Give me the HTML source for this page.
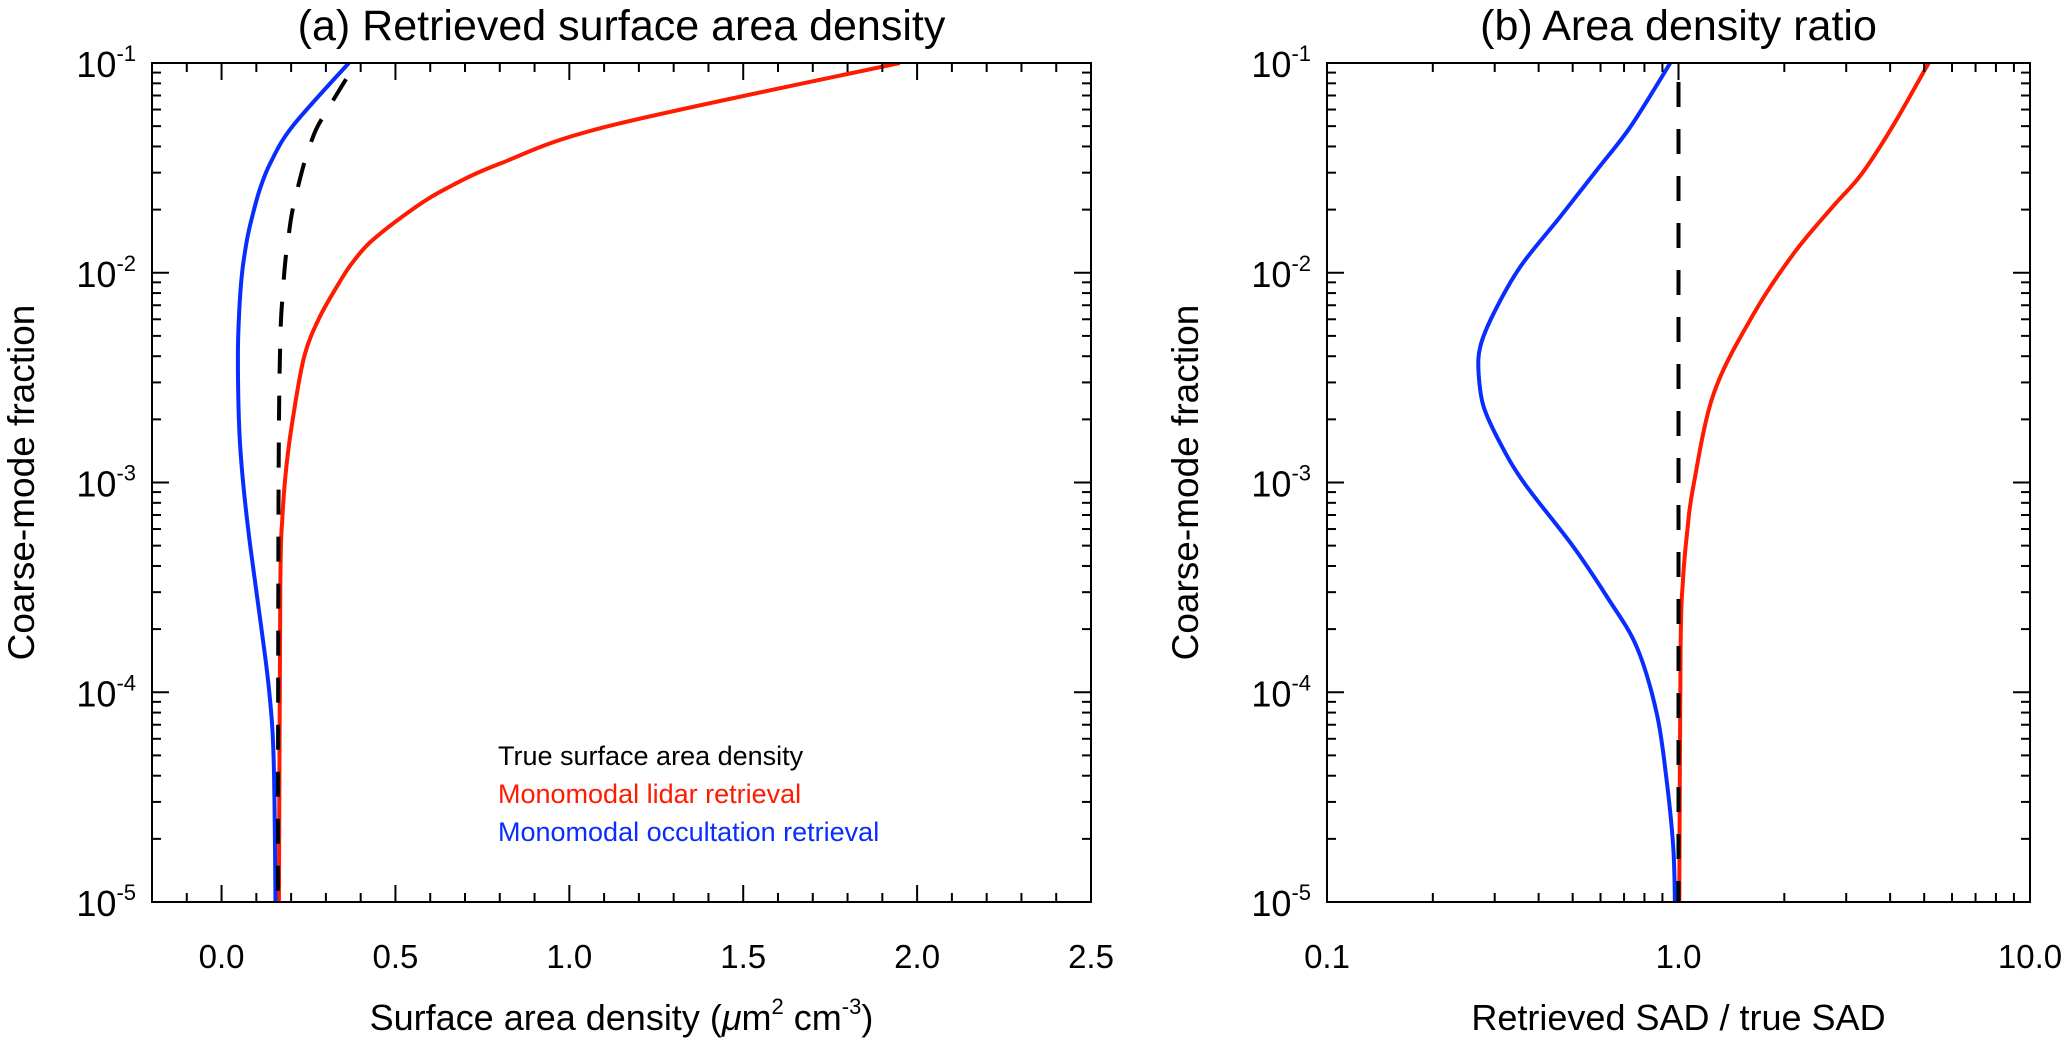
<!DOCTYPE html>
<html><head><meta charset="utf-8">
<style>
html,body{margin:0;padding:0;background:#fff;}
svg{display:block;font-family:"Liberation Sans",Arial,sans-serif;}
</style></head>
<body>
<svg id="fig" width="2067" height="1041" viewBox="0 0 2067 1041" xmlns="http://www.w3.org/2000/svg">
<rect width="2067" height="1041" fill="#fff"/>
<g id="panelA"></g>
<g id="panelB"></g>
</svg>
<script>
// ---- Panel (a) data ----
const aTrueFrac = [0.1,0.0778,0.0592,0.0475,0.0348,0.0266,0.0195,0.0151,0.0112,0.0083,0.00479,0.001,1e-5];
const aTrueVal  = [0.387,0.346,0.303,0.270,0.241,0.222,0.203,0.193,0.183,0.177,0.169,0.164,0.162];
const aLidarFrac = [0.1,0.05,0.0332,0.0253,0.02,0.0142,0.0111,0.0089,0.006,0.004,0.00217,0.00122,0.000684,0.000316,1e-5];
const aLidarVal  = [1.95,1.113,0.802,0.648,0.548,0.432,0.375,0.337,0.279,0.238,0.208,0.187,0.175,0.169,0.165];
const aOccFrac = [0.1,0.0497,0.0332,0.0253,0.0185,0.0143,0.01,0.00665,0.004,0.00178,0.001,0.000504,0.000217,0.000101,4.7e-5,1e-5];
const aOccVal  = [0.366,0.203,0.140,0.111,0.088,0.073,0.059,0.051,0.047,0.051,0.062,0.082,0.112,0.137,0.150,0.155];
const aXTicks = [0.0,0.5,1.0,1.5,2.0,2.5];
const aXTickLabels = ["0.0","0.5","1.0","1.5","2.0","2.5"];
// ---- Panel (b) data ----
const bTrueFrac = [0.1,1e-5];
const bTrueVal  = [1.0,1.0];
const bLidarFrac = [0.1,0.0497,0.0292,0.0210,0.0124,0.00641,0.00266,0.00094,0.000594,0.000344,0.000166,1e-5];
const bLidarVal  = [5.15,4.06,3.30,2.77,2.13,1.64,1.26,1.10,1.06,1.03,1.014,1.005];
const bOccFrac = [0.1,0.0497,0.0309,0.0185,0.0107,0.00641,0.00445,0.00332,0.0023,0.00154,0.001,0.000494,0.000286,0.000165,7.94e-5,3.82e-5,1.84e-5,1e-5];
const bOccVal  = [0.948,0.730,0.586,0.461,0.355,0.298,0.273,0.270,0.279,0.311,0.363,0.502,0.625,0.760,0.867,0.925,0.966,0.977];
const bXTicks = [0.1,1.0,10.0];
const bXTickLabels = ["0.1","1.0","10.0"];
const yTickExps = [-1,-2,-3,-4,-5];

const NS="http://www.w3.org/2000/svg";
function mk(tag,attrs,parent){const e=document.createElementNS(NS,tag);for(const k in attrs)e.setAttribute(k,attrs[k]);parent.appendChild(e);return e;}

const TOP=63,BOT=902;
function yScale(f){return TOP+(-1-Math.log10(f))*(BOT-TOP)/4;}

function smoothPath(pts){
  let d="M"+pts[0][0].toFixed(1)+","+pts[0][1].toFixed(1);
  for(let i=0;i<pts.length-1;i++){
    const p0=pts[i-1]||pts[i],p1=pts[i],p2=pts[i+1],p3=pts[i+2]||p2;
    const c1=[p1[0]+(p2[0]-p0[0])/6,p1[1]+(p2[1]-p0[1])/6];
    const c2=[p2[0]-(p3[0]-p1[0])/6,p2[1]-(p3[1]-p1[1])/6];
    d+=" C"+c1[0].toFixed(1)+","+c1[1].toFixed(1)+" "+c2[0].toFixed(1)+","+c2[1].toFixed(1)+" "+p2[0].toFixed(1)+","+p2[1].toFixed(1);
  }
  return d;
}

function drawPanel(g,cfg){
  const {x0,x1,xs}=cfg;
  const cp=mk("clipPath",{id:cfg.id+"clip"},g);
  mk("rect",{x:x0,y:TOP,width:x1-x0,height:BOT-TOP},cp);
  const sg=mk("g",{"clip-path":"url(#"+cfg.id+"clip)"},g);
  cfg.series.forEach(s=>{
    const pts=s.frac.map((f,i)=>[xs(s.val[i]),yScale(f)]);
    const d=s.smooth?smoothPath(pts):"M"+pts.map(p=>p[0].toFixed(1)+","+p[1].toFixed(1)).join(" L");
    const p=mk("path",{d:d,fill:"none",stroke:s.color,"stroke-width":4,"stroke-linejoin":"round"},sg);
    if(s.dash){p.setAttribute("stroke-dasharray","25,22");p.setAttribute("stroke-dashoffset","-19");}
    
    
  });
  const fr=mk("rect",{x:x0,y:TOP,width:x1-x0,height:BOT-TOP,fill:"none",stroke:"#000","stroke-width":2},g);
  
  
  const tg=mk("g",{stroke:"#000","stroke-width":2},g);
  cfg.xMinor.forEach(v=>{const x=xs(v);mk("line",{x1:x,y1:BOT,x2:x,y2:BOT-9},tg);mk("line",{x1:x,y1:TOP,x2:x,y2:TOP+9},tg);});
  cfg.xMajor.forEach(v=>{const x=xs(v);mk("line",{x1:x,y1:BOT,x2:x,y2:BOT-17},tg);mk("line",{x1:x,y1:TOP,x2:x,y2:TOP+17},tg);});
  for(let e=-5;e<-1+1e-9;e++){
    const y=yScale(Math.pow(10,e));
    mk("line",{x1:x0,y1:y,x2:x0+17,y2:y},tg);mk("line",{x1:x1,y1:y,x2:x1-17,y2:y},tg);
    if(e<-1){for(let m=2;m<=9;m++){const ym=yScale(m*Math.pow(10,e));mk("line",{x1:x0,y1:ym,x2:x0+9,y2:ym},tg);mk("line",{x1:x1,y1:ym,x2:x1-9,y2:ym},tg);}}
  }
  cfg.xMajor.forEach((v,i)=>{
    const t=mk("text",{x:xs(v),y:968,"font-size":33,"text-anchor":"middle",fill:"#000"},g);
    t.textContent=cfg.xLabels[i];
    
    
  });
  yTickExps.forEach(e=>{
    const y=yScale(Math.pow(10,e));
    const t=mk("text",{x:x0-16,y:y+14,"font-size":36,"text-anchor":"end",fill:"#000"},g);
    const a=mk("tspan",{},t);a.textContent="10";
    const b=mk("tspan",{dy:-16,"font-size":22},t);b.textContent=String(e);
    
    
  });
  const tt=mk("text",{x:(x0+x1)/2,y:40,"font-size":43,"text-anchor":"middle",fill:"#000"},g);
  tt.textContent=cfg.title;
  
  
  const yc=(TOP+BOT)/2;
  const yt=mk("text",{x:cfg.yTitleX,y:yc,"font-size":37,"text-anchor":"middle",fill:"#000",transform:"rotate(-90 "+cfg.yTitleX+" "+yc+")"},g);
  yt.textContent="Coarse-mode fraction";
  
  
  const xt=mk("text",{x:(x0+x1)/2,y:1030,"font-size":36,"text-anchor":"middle",fill:"#000","xml:space":"preserve"},g);
  xt.innerHTML=cfg.xTitle;
  
  
}

// Panel A
const ax0=152,ax1=1091,aMin=-0.2,aMax=2.5;
const xsA=v=>ax0+(v-aMin)/(aMax-aMin)*(ax1-ax0);
const aMinor=[];for(let v=-0.1;v<2.45;v+=0.1){if(Math.abs(v*2-Math.round(v*2))>1e-6)aMinor.push(+v.toFixed(2));}
drawPanel(document.getElementById("panelA"),{
  id:"a",x0:ax0,x1:ax1,xs:xsA,xMinor:aMinor,xMajor:aXTicks,xLabels:aXTickLabels,
  title:"(a) Retrieved surface area density",yTitleX:34,
  xTitle:'Surface area density (<tspan font-style="italic">μ</tspan>m<tspan dy="-16" font-size="22">2</tspan><tspan dy="16"> cm</tspan><tspan dy="-16" font-size="22">-3</tspan><tspan dy="16">)</tspan>',
  series:[
    {name:"lidar-retrieval-line",frac:aLidarFrac,val:aLidarVal,color:"#ff1a00",smooth:true},
    {name:"occultation-retrieval-line",frac:aOccFrac,val:aOccVal,color:"#0a2dff",smooth:true},
    {name:"true-sad-line",frac:aTrueFrac,val:aTrueVal,color:"#000",dash:true,smooth:true}
  ]
});
const legend=[["True surface area density","#000"],["Monomodal lidar retrieval","#ff1a00"],["Monomodal occultation retrieval","#0a2dff"]];
const LG=document.getElementById("panelA");
legend.forEach((l,i)=>{
  const t=mk("text",{x:498,y:765+i*38,"font-size":27,fill:l[1]},LG);
  t.textContent=l[0];
  
  
});

// Panel B
const bx0=1327,bx1=2030;
const xsB=v=>bx0+(Math.log10(v)+1)/2*(bx1-bx0);
const bMinor=[];[0.1,1].forEach(d=>{for(let m=2;m<=9;m++)bMinor.push(m*d);});
drawPanel(document.getElementById("panelB"),{
  id:"b",x0:bx0,x1:bx1,xs:xsB,xMinor:bMinor,xMajor:bXTicks,xLabels:bXTickLabels,
  title:"(b) Area density ratio",yTitleX:1198,
  xTitle:'Retrieved SAD  / true SAD',
  series:[
    {name:"lidar-ratio-line",frac:bLidarFrac,val:bLidarVal,color:"#ff1a00",smooth:true},
    {name:"occultation-ratio-line",frac:bOccFrac,val:bOccVal,color:"#0a2dff",smooth:true},
    {name:"true-ratio-line",frac:bTrueFrac,val:bTrueVal,color:"#000",dash:true,smooth:false}
  ]
});
</script>
</body></html>
